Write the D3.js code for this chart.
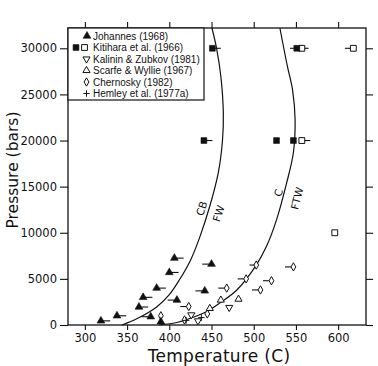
<!DOCTYPE html>
<html>
<head>
<meta charset="utf-8">
<script src="https://cdn.jsdelivr.net/npm/d3@7"></script>
<style>
    body { margin: 0; background: #fff; }
    svg text { font-family: "DejaVu Sans", sans-serif; fill: #111; }
    .legend-text { font-family: "Liberation Sans", Arial, sans-serif; }
</style>
</head>
<body>
<svg id="chart" width="378" height="366"></svg>
<script>
// [temperature C, pressure bars, bracket tail in C]
const johannes = [
    [319, 450, 11], [338, 1000, 11], [364, 1950, 11], [369, 3000, 11],
    [385, 4000, 11], [400, 5700, 11], [406, 7250, 11], [378, 900, -11],
    [390, 350, 0], [409, 2700, -11], [442, 3700, -11], [450, 6600, -11]
];

const kitiharaFilled = [[451, 30000], [551, 30000], [441, 20000], [527, 20000], [547, 20000]];
const kitiharaOpen = [[557, 30000], [618, 30000], [557, 20000], [596, 10000]];
// [pressure, low T, high T]
const kitiharaBars = [[30000, 451, 461], [30000, 543, 565], [30000, 608, 618], [20000, 441, 451], [20000, 557, 567]];

const kalinin = [[471, 1900], [426, 1100], [434, 450]];
const scarfe = [[461, 2700], [482, 2800], [448, 1800]];
const chernosky = [
    [390, 1000, 0], [423, 2000, -10], [468, 4000, -10], [491, 5000, -10],
    [503, 6500, -8], [508, 3800, -10], [521, 4800, -10], [547, 6300, -10],
    [445, 1200, 0], [418, 550, 0]
];
const hemley = [[438, 800], [420, 500]];

const curveCB = [
    [344, 0], [362, 700], [385, 1960], [400, 3300], [412, 4900], [425, 7000],
    [436, 9500], [448, 12900], [458, 16500], [463, 20000], [464, 23000],
    [461, 27000], [456, 30000], [450.5, 32200]
];
const curveC = [
    [388, 0], [410, 300], [430, 900], [445, 1500], [460, 2400], [480, 3800],
    [503, 6500], [515, 8500], [527, 11400], [539, 15400], [547, 18700],
    [549, 22300], [546, 25500], [540, 28000], [531, 32200]
];

const curveLabels = [
    { text: "CB", T: 438, P: 12650, angle: -72 },
    { text: "FW", T: 458, P: 12100, angle: -72 },
    { text: "C", T: 529, P: 14340, angle: -76 },
    { text: "FTW", T: 551, P: 13740, angle: -76 }
];

const tempTicks = [300, 350, 400, 450, 500, 550, 600];
const pressTicks = [0, 5000, 10000, 15000, 20000, 25000, 30000];

const legendItems = [
    { key: "johannes", label: "Johannes (1968)" },
    { key: "kitihara", label: "Kitihara et al. (1966)" },
    { key: "kalinin", label: "Kalinin & Zubkov (1981)" },
    { key: "scarfe", label: "Scarfe & Wyllie (1967)" },
    { key: "chernosky", label: "Chernosky (1982)" },
    { key: "hemley", label: "Hemley et al. (1977a)" }
];

const box = { left: 68, right: 366, top: 28, bottom: 325 };
const svg = d3.select("#chart");

const x = d3.scaleLinear().domain([280, 633]).range([box.left, box.right]);
const y = d3.scaleLinear().domain([0, 32200]).range([box.bottom, box.top]);

const triUp = d3.symbol().type(d3.symbolTriangle).size(26)();
const square = d3.symbol().type(d3.symbolSquare).size(34)();
const openTri = d3.symbol().type(d3.symbolTriangle).size(22)();
const diamond = d3.symbol().type(d3.symbolDiamond).size(20)();
const plus = "M-3.2,0H3.2M0,-3.2V3.2";

// axes: ticks outside on all four sides, labels only bottom/left
function styleAxis(g) {
    g.select(".domain").remove();
    g.selectAll(".tick line").attr("stroke", "#111").attr("stroke-width", 1.1);
    g.selectAll(".tick text").attr("font-size", 11.5).attr("fill", "#111");
}

svg.append("g")
    .attr("transform", `translate(0,${box.bottom})`)
    .call(d3.axisBottom(x).tickValues(tempTicks).tickSize(5).tickPadding(4))
    .call(styleAxis);

svg.append("g")
    .attr("transform", `translate(0,${box.top})`)
    .call(d3.axisTop(x).tickValues(tempTicks).tickSize(6).tickFormat(""))
    .call(styleAxis);

svg.append("g")
    .attr("transform", `translate(${box.left},0)`)
    .call(d3.axisLeft(y).tickValues(pressTicks).tickSize(8).tickPadding(3).tickFormat(d3.format("d")))
    .call(styleAxis);

svg.append("g")
    .attr("transform", `translate(${box.right},0)`)
    .call(d3.axisRight(y).tickValues(pressTicks).tickSize(7).tickFormat(""))
    .call(styleAxis);

svg.append("rect")
    .attr("x", box.left).attr("y", box.top)
    .attr("width", box.right - box.left).attr("height", box.bottom - box.top)
    .attr("fill", "none").attr("stroke", "#111").attr("stroke-width", 1.3);

// axis titles
svg.append("text")
    .attr("x", (box.left + box.right) / 2 + 2)
    .attr("y", 362)
    .attr("text-anchor", "middle")
    .attr("font-size", 17)
    .attr("letter-spacing", 0.3)
    .text("Temperature (C)");

svg.append("text")
    .attr("transform", "translate(18,170) rotate(-90)")
    .attr("text-anchor", "middle")
    .attr("font-size", 15.5)
    .text("Pressure (bars)");

// reaction curves
const plot = svg.append("g");
const line = d3.line()
    .x(d => x(d[0]))
    .y(d => y(d[1]))
    .curve(d3.curveCatmullRom.alpha(0.5));

plot.selectAll(".reaction")
    .data([curveCB, curveC])
    .join("path")
    .attr("class", "reaction")
    .attr("d", line)
    .attr("fill", "none")
    .attr("stroke", "#111")
    .attr("stroke-width", 1.2);

plot.selectAll(".curve-label")
    .data(curveLabels)
    .join("text")
    .attr("class", "curve-label")
    .attr("transform", d => `translate(${x(d.T)},${y(d.P)}) rotate(${d.angle})`)
    .attr("text-anchor", "middle")
    .attr("dominant-baseline", "central")
    .attr("font-size", 10.5)
    .text(d => d.text);

// bracket tails drawn under the markers
const tails = [
    ...johannes.filter(d => d[2] !== 0).map(d => [d[0], d[0] + d[2], d[1]]),
    ...chernosky.filter(d => d[2] !== 0).map(d => [d[0], d[0] + d[2], d[1]]),
    ...kitiharaBars.map(d => [d[1], d[2], d[0]])
];

plot.selectAll(".tail")
    .data(tails)
    .join("line")
    .attr("class", "tail")
    .attr("x1", d => x(d[0]))
    .attr("x2", d => x(d[1]))
    .attr("y1", d => y(d[2]))
    .attr("y2", d => y(d[2]))
    .attr("stroke", "#111")
    .attr("stroke-width", 1.1);

function drawMarks(data, cls, shape, filled, rotate = 0) {
    plot.selectAll("." + cls)
        .data(data)
        .join("path")
        .attr("class", cls)
        .attr("d", shape)
        .attr("transform", d => `translate(${x(d[0])},${y(d[1])}) rotate(${rotate})`)
        .attr("fill", filled ? "#111" : "#fff")
        .attr("stroke", "#111")
        .attr("stroke-width", filled ? 0.6 : 1);
}

drawMarks(chernosky, "chernosky", diamond, false);
drawMarks(kalinin, "kalinin", openTri, false, 180);
drawMarks(scarfe, "scarfe", openTri, false);
drawMarks(hemley, "hemley", plus, false);
drawMarks(johannes, "johannes", triUp, true);
drawMarks(kitiharaOpen, "kit-open", square, false);
drawMarks(kitiharaFilled, "kit-filled", square, true);

// legend sits in the top-left corner sharing the frame edges
const legend = svg.append("g");
legend.append("rect")
    .attr("x", box.left).attr("y", box.top)
    .attr("width", 136).attr("height", 72)
    .attr("fill", "#fff").attr("stroke", "#111").attr("stroke-width", 1.2);

const rowY = i => 36 + i * 11.5;
const legendShape = {
    johannes: [[87, triUp, true, 0]],
    kitihara: [[76, square, true, 0], [84.5, square, false, 0]],
    kalinin: [[86.5, openTri, false, 180]],
    scarfe: [[86.5, openTri, false, 0]],
    chernosky: [[86.5, diamond, false, 0]],
    hemley: [[86.5, plus, false, 0]]
};

legendItems.forEach((item, i) => {
    legendShape[item.key].forEach(([sx, shape, filled, rot]) => {
        legend.append("path")
            .attr("d", shape)
            .attr("transform", `translate(${sx},${rowY(i)}) rotate(${rot})`)
            .attr("fill", filled ? "#111" : "#fff")
            .attr("stroke", "#111")
            .attr("stroke-width", filled ? 0.6 : 1);
    });
    legend.append("text")
        .attr("class", "legend-text")
        .attr("x", 93)
        .attr("y", rowY(i))
        .attr("dominant-baseline", "central")
        .attr("font-size", 10)
        .text(item.label);
});
</script>
</body>
</html>
